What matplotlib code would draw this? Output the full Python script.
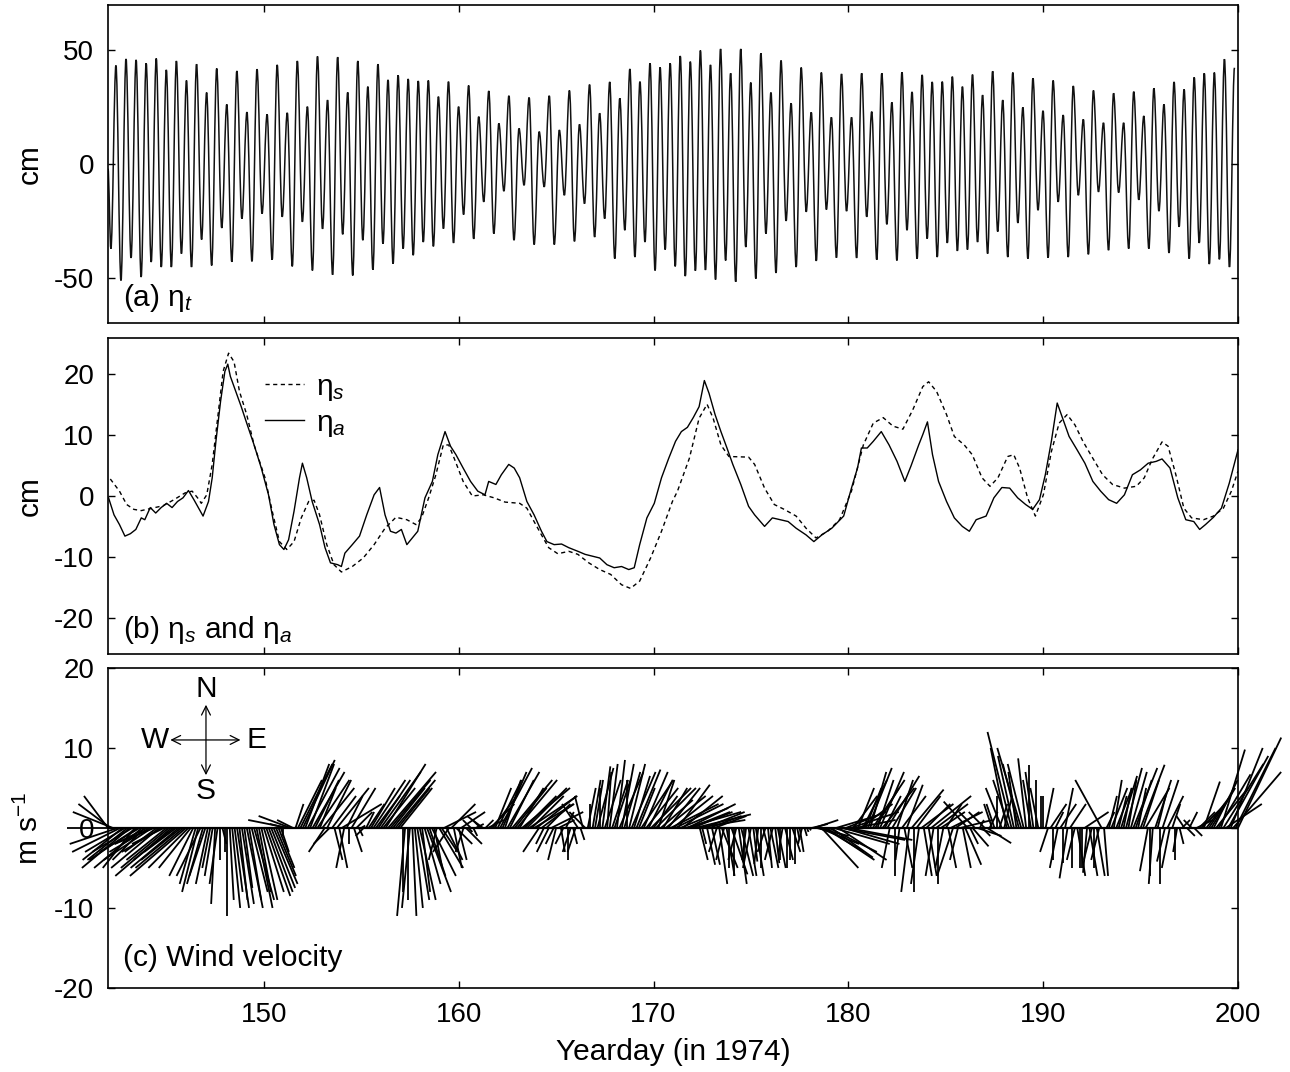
import matplotlib
matplotlib.use('Agg')
import matplotlib.pyplot as plt
import numpy as np
from matplotlib.collections import LineCollection
from matplotlib.lines import Line2D
from matplotlib.path import Path
from matplotlib.patches import PathPatch

plt.rcParams['font.family'] = ['Liberation Sans', 'DejaVu Sans']
plt.rcParams['mathtext.fontset'] = 'custom'
plt.rcParams['mathtext.rm'] = 'Liberation Sans'
plt.rcParams['mathtext.it'] = 'Liberation Sans:italic'
plt.rcParams['axes.unicode_minus'] = False

# ---- (a) total sea level: successive low / high waters (cm) ----
eta_t_start = [142.0, -2.0]
eta_t_lo = [-37.2, -51.2, -41.3, -49.7, -43.1, -45.3, -45.3, -39.4, -45.3, -33.2,
            -44.6, -28.1, -43.0, -24.0, -42.8, -21.8, -42.1, -23.2, -45.0, -25.4,
            -46.8, -28.5, -48.7, -30.9, -49.0, -33.5, -46.5, -35.0, -43.8, -37.2,
            -40.1, -34.3, -36.2, -28.4, -34.7, -22.2, -32.9, -16.6, -30.6, -11.9,
            -33.5, -9.3, -35.4, -10.0, -35.4, -13.7, -34.0, -17.4, -32.1, -24.0,
            -41.6, -29.1, -40.9, -34.3, -46.8, -37.6, -45.0,
            -49.3, -46.9, -46.6, -50.8, -42.4, -51.8, -36.5, -50.4, -30.6, -47.9,
            -25.0, -45.3, -21.0, -42.6, -20.0, -41.2, -20.7, -41.3, -23.2, -42.1,
            -26.5, -42.4, -29.1, -41.6, -32.8, -40.9, -34.7, -38.2, -37.6, -34.3,
            -39.4, -29.7, -40.9, -25.9, -41.6, -20.3, -41.2, -16.6, -40.9, -13.7,
            -39.7, -12.2, -37.9, -12.5, -37.2, -15.7, -37.2, -20.7, -39.1, -27.6,
            -41.6, -34.7, -44.0, -41.9, -45.3]
eta_t_hi = [43.4, 46.3, 45.9, 44.4, 46.5, 41.5, 45.4, 36.8, 44.0, 31.5,
            42.1, 26.3, 41.0, 22.9, 41.8, 21.9, 43.7, 22.6, 45.4, 25.3,
            47.4, 28.2, 47.1, 31.6, 45.4, 34.1, 44.0, 37.1, 39.1, 37.5,
            36.6, 36.8, 29.7, 36.3, 25.3, 34.6, 20.9, 32.2, 17.9, 30.1,
            15.7, 29.3, 14.3, 30.1, 15.0, 32.4, 17.5, 35.0, 22.4, 36.2,
            29.0, 41.9, 36.3, 44.4, 42.6, 44.4,
            47.6, 45.1, 50.0, 43.7, 50.7, 40.0, 50.7, 35.9, 48.8, 31.5,
            45.6, 26.8, 42.5, 22.8, 40.3, 20.6, 39.7, 20.6, 40.0, 23.1,
            40.0, 27.2, 40.4, 31.8, 39.3, 36.2, 36.3, 38.5, 34.1, 39.4,
            30.4, 40.9, 28.2, 40.3, 25.0, 37.8, 23.5, 36.8, 21.6, 34.4,
            19.7, 32.4, 18.2, 31.2, 18.2, 31.9, 21.2, 33.4, 26.3, 36.2,
            32.9, 38.2, 40.0, 40.3, 46.2, 42.4]
eta_t_first, eta_t_last = 142.15, 199.82

# ---- (b) eta_s (dashed) and eta_a (solid), cm ----
s_day = [142.12, 142.59, 142.96, 143.33, 143.71, 144.27, 144.83, 145.39, 145.95, 146.32,
         146.6, 146.79, 147.07, 147.35, 147.63, 147.91, 148.19, 148.47, 148.75, 149.12,
         149.5, 150.06, 150.43, 150.8, 151.18, 151.55, 151.92, 152.3, 152.58, 152.86,
         153.23, 153.6, 153.98, 154.54, 155.1, 155.66, 156.22, 156.78, 157.34, 157.81,
         158.09, 158.46, 158.83, 159.21, 159.49, 159.77, 160.23, 160.7, 161.26, 161.82,
         162.38, 163.13, 163.5, 163.87, 164.25, 164.62, 165.09, 165.65, 166.12, 166.68,
         167.24, 167.8, 168.36, 168.82, 169.29, 169.85, 170.41, 170.97, 171.23, 171.84,
         172.34, 172.75, 173.06, 173.46, 173.87, 174.88, 175.19, 175.7, 176.2, 176.71,
         177.32, 177.83, 178.34, 178.94, 179.55, 180.16, 180.77, 181.28, 181.79, 182.29,
         182.8, 183.31, 183.82, 184.12, 184.53, 185.04, 185.44, 185.95, 186.36, 186.86,
         187.27, 187.68, 188.18, 188.49, 188.79, 189.2, 189.6, 190.01, 190.42, 190.82,
         191.23, 191.63, 192.04, 192.55, 193.05, 193.56, 194.17, 194.78, 195.19, 195.59,
         196.1, 196.41, 196.81, 197.22, 197.62, 198.23, 198.74, 199.25, 199.66, 200.0]
eta_s = [2.8, 0.8, -1.4, -2.2, -2.4, -2.0, -1.6, -0.6, 0.5, 0.8,
         -0.3, -1.2, 0.2, 5.2, 12.8, 20.5, 23.5, 22.1, 17.2, 13.4,
         8.4, 3.0, -2.5, -7.5, -8.8, -7.5, -3.6, -0.9, -0.7, -3.1,
         -8.0, -11.3, -12.5, -11.6, -10.2, -8.0, -5.3, -3.5, -3.9, -4.7,
         -3.6, -0.3, 3.5, 8.4, 8.4, 6.2, 2.4, 0.0, 0.2, -0.3,
         -1.0, -1.2, -2.0, -4.2, -6.4, -8.5, -9.5, -9.1, -9.6, -11.0,
         -12.1, -12.9, -14.6, -15.2, -14.0, -10.2, -5.8, -0.9, 0.8, 6.2,
         12.8, 15.1, 12.8, 8.4, 6.5, 6.4, 5.2, 1.3, -1.4, -2.2,
         -3.3, -5.3, -6.9, -5.8, -3.9, 0.8, 8.4, 12.0, 12.9, 11.5,
         11.0, 14.2, 18.0, 18.8, 17.2, 13.4, 9.8, 8.4, 6.8, 3.0,
         1.6, 3.0, 6.5, 6.8, 4.6, -0.3, -3.3, 0.2, 7.3, 12.0,
         13.4, 11.7, 9.0, 6.2, 3.5, 1.9, 1.3, 1.6, 3.0, 6.0,
         8.9, 8.2, 3.5, -2.0, -3.6, -3.9, -3.3, -2.0, 0.8, 4.1]

a_day = [142.03, 142.31, 142.59, 142.87, 143.15, 143.43, 143.71, 143.89, 144.17, 144.45,
         144.73, 145.01, 145.29, 145.57, 145.85, 146.13, 146.41, 146.69, 146.88, 147.16,
         147.35, 147.54, 147.78, 148.0, 148.15, 148.28, 148.56, 148.84, 149.12, 149.5,
         149.87, 150.24, 150.52, 150.8, 151.03, 151.27, 151.55, 151.83, 151.98, 152.2,
         152.48, 152.86, 153.14, 153.42, 153.79, 153.98, 154.16, 154.54, 154.91, 155.28,
         155.66, 155.94, 156.22, 156.5, 156.78, 157.06, 157.34, 157.62, 157.9, 158.27,
         158.65, 158.93, 159.3, 159.58, 159.86, 160.23, 160.61, 160.98, 161.35, 161.54,
         161.91, 162.19, 162.57, 162.85, 163.13, 163.5, 163.87, 164.25, 164.53, 164.9,
         165.28, 165.65, 166.12, 166.49, 166.86, 167.24, 167.61, 167.98, 168.36, 168.73,
         169.01, 169.29, 169.66, 170.04, 170.41, 170.78, 171.13, 171.43, 171.74, 172.04,
         172.34, 172.61, 172.85, 173.16, 173.46, 173.77, 174.07, 174.48, 174.88, 175.19,
         175.7, 176.1, 176.51, 176.91, 177.32, 177.83, 178.23, 178.64, 179.15, 179.76,
         180.16, 180.47, 180.67, 180.97, 181.28, 181.69, 182.09, 182.5, 182.9, 183.21,
         183.61, 183.82, 184.06, 184.32, 184.63, 185.04, 185.44, 185.85, 186.21, 186.56,
         187.07, 187.47, 187.88, 188.28, 188.69, 189.1, 189.46, 189.81, 190.11, 190.42,
         190.72, 191.03, 191.33, 191.74, 192.14, 192.55, 192.95, 193.36, 193.77, 194.17,
         194.58, 194.99, 195.39, 195.8, 196.1, 196.51, 196.91, 197.32, 197.73, 198.03,
         198.33, 198.74, 199.15, 199.55, 200.0]
eta_a = [-0.3, -3.1, -4.7, -6.6, -6.2, -5.5, -3.6, -3.9, -1.9, -2.8,
         -1.9, -1.2, -1.9, -0.9, -0.3, 0.9, -0.6, -2.2, -3.3, -0.9,
         3.0, 9.0, 15.6, 20.5, 21.7, 19.7, 17.2, 14.7, 12.0, 8.4,
         4.6, 0.2, -4.7, -8.0, -8.8, -7.2, -2.5, 3.0, 5.4, 3.0,
         -0.9, -4.7, -8.5, -11.0, -11.3, -11.6, -9.4, -8.0, -6.6, -3.1,
         0.2, 1.4, -3.1, -5.8, -6.1, -5.5, -8.0, -6.9, -5.8, -0.3,
         2.4, 6.8, 10.6, 8.2, 6.8, 4.6, 2.4, 0.8, 0.2, 2.4,
         1.9, 3.5, 5.2, 4.6, 3.0, -0.9, -3.1, -5.8, -7.5, -8.0,
         -7.9, -8.5, -9.1, -9.6, -9.9, -10.2, -11.3, -11.8, -11.6, -12.1,
         -11.8, -8.0, -3.6, -1.2, 3.0, 6.2, 9.0, 10.6, 11.3, 12.9,
         14.7, 19.0, 16.9, 13.4, 10.6, 7.9, 5.2, 1.9, -1.7, -3.1,
         -5.0, -3.6, -3.9, -4.2, -5.3, -6.4, -7.5, -6.4, -5.3, -3.3,
         1.3, 4.6, 7.9, 7.9, 9.0, 10.6, 8.4, 5.7, 2.4, 4.9,
         8.4, 10.1, 12.2, 6.8, 2.4, -0.9, -3.6, -5.0, -5.8, -3.9,
         -3.3, -0.3, 1.4, 1.3, -0.3, -1.4, -2.2, -0.6, 3.5, 9.0,
         15.3, 12.5, 9.8, 7.6, 5.4, 2.4, 0.8, -0.6, -1.2, 0.2,
         3.5, 4.3, 5.4, 5.7, 6.1, 4.6, -0.3, -3.9, -4.2, -5.5,
         -4.7, -3.5, -2.0, 2.1, 7.6]

# ---- (c) wind velocity every 3 h from day 142 (m/s, east and north) ----
wind_u = [-3, -4, -5, -6, -6, -6, -5, -5,  -5, -6, -5, -4, -6, -5, -6, -4,        # 142-143
          -4, -5, -6, -5, -4, -6, -5, -4,  -5, -6, -7, -5, -4, -6, -5, -6,        # 144-145
          -7, -5, -4, -3, -2, -2, -3, -2,  -2, -1.5, -1, -1, -0.5, -1, 0, 0.5,    # 146-147
          0, 0, 0.5, 1, 1, 1.5, 1, 1.5,  1, 2, 1.5, 2, 2.5, 2, 1.5, 2,            # 148-149
          2.5, 3, 3, 3, 3, 2.5, 2, 1,  0, -2, -5, -4, -2, 1, 3, 4,                # 150-151
          4, 3, 4, 3, 4, 3, 4, 2,  4, -2, 3, -2, 3, 1, 4, 1,                      # 152-153
          5, -1, 2, 0, 3, 1, 2, 0.5,  0.5, -1, 1, 2, 3, 4, 3, 4,                  # 154-155
          5, 4, 5, 6, 5, 4, 5, 4,  4, 0, -1, 0, -1, 0.5, 1, 1.5,                  # 156-157
          2, 1, 2, 3, 2, 3, 1, -1,  3, 2, 4, 2, -2, 3, 1, 2,                      # 158-159
          1, 3, -1, 2, 0.5, -1, 0.5, 1,  0.3, -1, -2, 1, 2, 3, 3, 2,              # 160-161
          3, 4, 3, 2, 4, 3, 5, 4,  5, 3, 6, 4, 5, 6, 4, 5,                        # 162-163
          5, -2, 4, -1, 3, -1.5, 4, -1,  -1, 2, 0.5, -1, 1, 0, -1, 0.5,           # 164-165
          -1, -2, 0.5, -1, -2, 1, 0, 1,  1, 2, 0, 1, 2, 0.5, 1, 2,                # 166-167
          2, 1, 3, 1.5, 2, 0, 2, 3,  2, 3, 2, 4, 3, 4, 3, 5,                      # 168-169
          3, 5, 2, 4, 3, 5, 4, 6,  5, 6, 4, 6, 5, 7, 6, 5,                        # 170-171
          5, 7, 6, 1, 0.5, 5, 1, 4,  1, 4, -1, 1, 2, -1, 1, 0,                    # 172-173
          2, 0, -1, 1, 1.5, 0, -0.5, 1,  -1, 0.5, 1, -0.5, 0, 1, -1, 0.5,         # 174-175
          1, -1, 0.5, 1, 0, -0.5, 1, 0,  0, 1, 0, 0.3, 0.5, -0.5, 0.3, 0.2,       # 176-177
          0.2, 2, 3, 4, 5, 4.6, 5, 6,  6, 5.2, 7, 5, 6, 8, 7, 5,                  # 178-179
          8, 6, 3, 5, 2, 4, 3, 2,  3, 2, 4, 3, 2, 3, 4, 2,                        # 180-181
          4, -1, 3, 0, 2, -0.5, 3, 1,  2, -1, 4, 0, 3, -1, 4, 1,                  # 182-183
          3, 1, 5, -1, 4, 0, 3, -1,  2, 1, 4, -2, 3, -1, 4, 1,                    # 184-185
          2, -3, 1, 2, -2, 3, 0.5, 1,  -2, 3, 1, -1, -1, 0, 1, -2,                # 186-187
          1, -2, -2, -3, -2, -1, -2, -3,  -2, -1, 0, -1, -1, 0, -1, 0,            # 188-189
          0, 1, -1, 2, 0, 1, -1, 2,  0, 1, -1, 2, 0, -1, 1, 0,                    # 190-191
          0, 3, -0.5, 1, -1, 0, 1, -1,  -3.3, 0.5, 1, 1, 2, 1, 2, 1,              # 192-193
          2, 1, 2, 1, 2, 3, 2, 1,  3, 2, 3, -1, 0, -0.5, 2, 1,                    # 194-195
          0, 2, -1, 2, -1, 1, 0, -0.5,  0.5, 1, -1, 1, 1, -1, 1, 2,               # 196-197
          2, 3, 2, 3, 2, 3, 3, 4,  4, 3, 5, 4.5, 5, 4, 6, 5,                      # 198-199
          5.4]                                                                    # 200
wind_v = [4, 3, 2, 0, -2, -3, -4, -3,  -4, -5, -3, -5, -4, -3, -5, -4,
          -2, -3, -4, -2, -3, -5, -3, -2,  -4, -5, -6, -4, -3, -5, -4, -5,
          -6, -5, -5, -6, -7, -8, -6, -7,  -6, -7, -5, -6, -9.5, -7, -4, -2,
          -3, -11, -9, -10, -8, -10, -9, -9.5,  -7.5, -10, -9, -8, -9, -10, -8, -9,
          -8, -8.5, -8, -7.5, -7, -6, -5, -3,  -1, 0.5, 1, 1.5, 1, 3, 6, 8,
          8.5, 8, 7.5, 8, 7, 6, 6, 5,  5, -3, 6, -2, 4, -4, 5, -5,
          3, -5, 4, -2, 5, -3, 2, -1,  0.3, -1, 2, 3, 5, 6, 4, 6,
          7, 5, 8, 7, 6, 5, 6, 5,  5, -8, -11, -9, -10, -11, -10, -9,
          -9, -8, -7, -8, -6, -6, -5, -4,  -5, -3, 2, -4, -3, 3, -5, -2,
          -4, 2, -3, -2, -0.5, 1, -1, 0.5,  0.2, 1, 1.5, 1, 1, 3, 4, 5,
          6, 7.5, 7, 6, 7, 6, 6, 5,  6, 5, 5, 4, 5, 4, 4, 3,
          4, -3, 3, -2, 3, -3, 2, -2,  -4, 1, -3, -2, 2, -4, -3, -2,
          -3, 3, -1.5, 4, 2, 5, 3, 6,  6, 7.5, 5, 7.7, 6, 7, 8, 6,
          6, 8.5, 7, 8, 7, 6, 8, 7,  6.5, 7.3, 5, 6, 7, 5, 6, 5,
          4, 5, 6, 3.5, 5, 4, 5, 3,  4, 3, 5.4, 2.5, 4, 2, 3, 2,
          2, 1.7, 1, -4, -2, 2, -4.6, 1.5,  -4.6, 1.5, -3, -7, -5, -4, -6, -5,
          -5.8, -6, -4, -7, -6, -5, -4, -6,  -5, -4.2, -6, -4.5, -5, -4, -3, -5,
          -5, -4, -4.4, -5, -4, -3, -4, -5,  -4, -3, -4.5, -1.5, -3, -2, -1, -0.5,
          -0.3, 0.5, 1, -1, -2, -5, -3, -4,  -3, -3.7, -2, 1.5, -4, -1.5, -2, 2,
          -1.5, 2, 4, 1, 5, 3, 6, 5,  7.5, 7, 6, 5, 6, 7, 5, 4,
          6.5, -5, 5, -6, 6, -4, 4, -5,  5.4, -8, 4.8, -8, 4, -7, 3, -6,
          3, -6, 4, -6, 3, -7, 2, -5,  3, -5, 2, -6, 2, -4, 1, -5,
          -4.6, 3.3, -2, -2.3, 2, -1, 1, -1,  2, -1.9, 2, 3, 3, 4, 3, 5,
          4, 10, 6, 12, 9, 7, 8, 10,  8, 8.7, 7.9, 6, 7, 6, 5, 4,
          4, 5, -3, 3, -4, 2, -5, 3,  -4.4, 5, -6.3, 3, -5, -4, -6, -5,
          -5, 2, -5.6, -6, -4, -5, -6, -4,  6, -6, 2, 4, 5, 6, 5, 4,
          6.5, 5, 7.5, 6, 7, 7.5, 6, 5,  7.9, 6, 5, -5.4, -6, -7, 6, 4,
          -7, 6, -4.2, 4, -5, 3, -4, -3,  -2, 1, 1.5, -1, 2, 1, -1, 1,
          2, 3, 5.8, 4, 3, 5, 6, 5,  6.7, 9.8, 8, 3, 9, 10, 7, 10,
          11.3]
wind_start, wind_step = 142.0, 0.125

FS = 21.5
TFS = 20
W, H = 12.9, 10.72
fig = plt.figure(figsize=(W, H), dpi=100)
L, WID = 0.0837, 0.876
H3 = 0.2985
ax1 = fig.add_axes([L, 0.6985, WID, 0.2968])
ax2 = fig.add_axes([L, 0.3899, WID, 0.2948])
ax3 = fig.add_axes([L, 0.0784, WID, H3])

for ax in (ax1, ax2, ax3):
    ax.set_xlim(142, 200)
    ax.set_xticks([150, 160, 170, 180, 190, 200])
    ax.tick_params(direction='in', top=True, right=True, length=5, width=1.0,
                   labelsize=TFS, pad=10)
    for sp in ax.spines.values():
        sp.set_linewidth(1.2)
    ax.yaxis.set_label_coords(-0.057, 0.5)
for ax in (ax1, ax2):
    ax.tick_params(labelbottom=False)

# (a) smooth curve drawn through the successive extremes
ext = np.ravel(np.column_stack([eta_t_lo, eta_t_hi]))
t_ext = np.r_[eta_t_start[0], np.linspace(eta_t_first, eta_t_last, len(ext))]
y_ext = np.r_[eta_t_start[1], ext]
k = 0.36
verts = [(t_ext[0], y_ext[0])]
codes = [Path.MOVETO]
for i in range(len(t_ext) - 1):
    dt = t_ext[i + 1] - t_ext[i]
    verts += [(t_ext[i] + k * dt, y_ext[i]), (t_ext[i + 1] - k * dt, y_ext[i + 1]),
              (t_ext[i + 1], y_ext[i + 1])]
    codes += [Path.CURVE4] * 3
ax1.add_patch(PathPatch(Path(verts, codes), fill=False, edgecolor='#111111', lw=1.1))
ax1.set_ylim(-70, 70)
ax1.set_yticks([-50, 0, 50])
ax1.set_ylabel('cm', fontsize=FS)
ax1.text(0.013, 0.03, r'(a) η$_t$', transform=ax1.transAxes, fontsize=FS, va='bottom')

# (b)
ax2.plot(s_day, eta_s, color='k', lw=1.0, dashes=(3, 2.5))
ax2.plot(a_day, eta_a, color='k', lw=1.0)
ax2.set_ylim(-26, 26)
ax2.set_yticks([-20, -10, 0, 10, 20])
ax2.set_ylabel('cm', fontsize=FS)
ax2.text(0.013, 0.025, r'(b) η$_s$ and η$_a$', transform=ax2.transAxes, fontsize=FS, va='bottom')
handles = [Line2D([], [], color='k', lw=1.0, dashes=(3, 2.5)), Line2D([], [], color='k', lw=1.0)]
ax2.legend(handles, [r'η$_s$', r'η$_a$'], loc='upper left', bbox_to_anchor=(0.115, 0.975),
           frameon=False, fontsize=FS, handlelength=1.3, handletextpad=0.4, labelspacing=0.2)

# (c) stick plot, equal scaling of u and v on screen
ax3.set_ylim(-20, 20)
ax3.set_yticks([-20, -10, 0, 10, 20])
px_day = WID * W / 58.0
px_ms = H3 * H / 40.0
f = px_ms / px_day
t_w = wind_start + wind_step * np.arange(len(wind_u))
segs = [[(t, 0), (t + u * f, v)] for t, u, v in zip(t_w, wind_u, wind_v)]
lc = LineCollection(segs, colors='k', linewidths=1.3)
lc.set_clip_on(False)
ax3.add_collection(lc)
ax3.plot([142, 200], [0, 0], color='k', lw=1.6)
ax3.set_ylabel(r'm s$^{\mathregular{-1}}$', fontsize=FS)
ax3.set_xlabel('Yearday (in 1974)', fontsize=FS, labelpad=7)
ax3.text(0.013, 0.05, '(c) Wind velocity', transform=ax3.transAxes, fontsize=FS, va='bottom')

# compass
ap = dict(arrowstyle='<->', lw=0.9, color='k', mutation_scale=16, shrinkA=0, shrinkB=0)
ax3.annotate('', xy=(148.8, 11.0), xytext=(145.2, 11.0), arrowprops=ap)
ax3.annotate('', xy=(147.03, 15.4), xytext=(147.03, 6.6), arrowprops=ap)
ax3.text(147.03, 17.4, 'N', ha='center', va='center', fontsize=FS)
ax3.text(147.03, 4.6, 'S', ha='center', va='center', fontsize=FS)
ax3.text(144.4, 11.0, 'W', ha='center', va='center', fontsize=FS)
ax3.text(149.6, 11.0, 'E', ha='center', va='center', fontsize=FS)

fig.savefig('out.png', dpi=100)
